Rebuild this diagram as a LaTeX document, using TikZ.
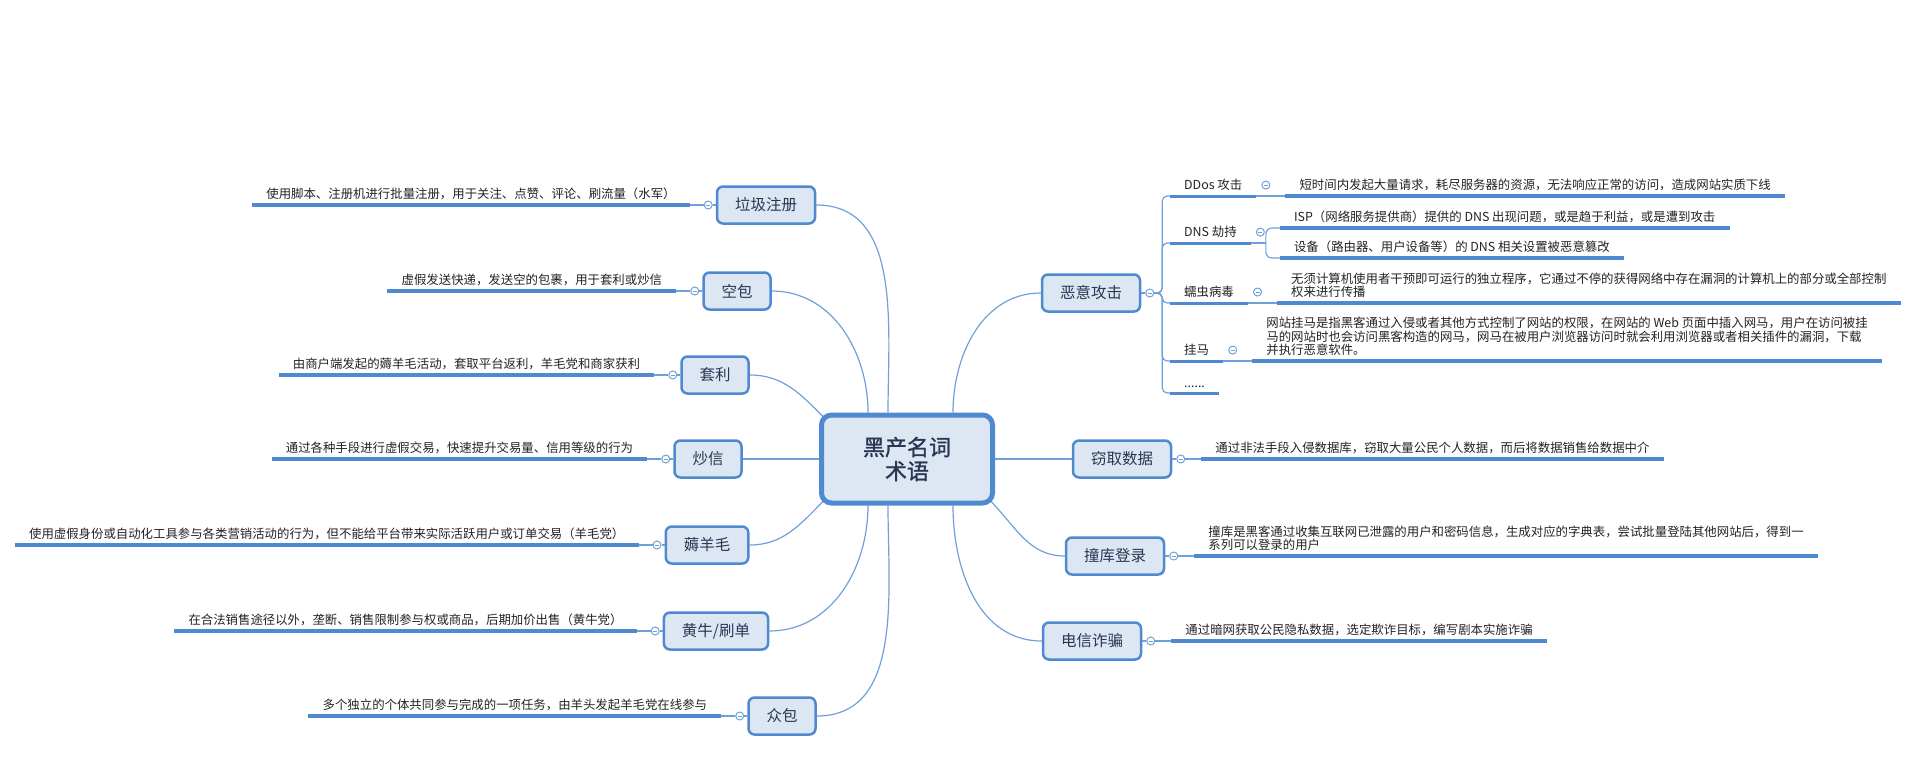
\documentclass[tikz,border=0pt]{standalone}
\usepackage{fontspec}
\setmainfont{Noto Sans CJK SC}
\newfontfamily\hubfont{Noto Sans CJK SC}[FakeBold=1.2]
\usepackage{tikz}
\usetikzlibrary{positioning, calc, backgrounds}
\definecolor{topicblue}{RGB}{79,138,208}
\definecolor{topicfill}{RGB}{221,231,243}
\definecolor{linkblue}{RGB}{112,160,218}
\definecolor{topictext}{RGB}{40,56,84}
\definecolor{desctext}{RGB}{34,34,34}

\begin{document}
\begin{tikzpicture}[
    x=1pt, y=-1pt,
    hub/.style={draw=topicblue, fill=topicfill, line width=5pt, rounded corners=10pt, minimum width=171pt, minimum height=88pt, align=center, text=topictext, font=\hubfont\fontsize{22}{24}\selectfont},
    topic/.style={draw=topicblue, fill=topicfill, line width=2.5pt, rounded corners=6pt, minimum height=37pt, inner xsep=18pt, text=topictext, font=\fontsize{15.5}{16}\selectfont},
    fold/.style={circle, draw=linkblue, fill=white, line width=1pt, minimum size=8pt, inner sep=0pt,
        path picture={\draw[linkblue, line width=0.8pt] ([xshift=-2pt]path picture bounding box.center) -- ([xshift=2pt]path picture bounding box.center);}},
    desc/.style={inner xsep=14pt, inner ysep=5pt, align=left, text=desctext, font=\fontsize{12.4}{13.5}\selectfont},
    sublabel/.style={inner xsep=14pt, inner ysep=5pt, text=desctext, font=\fontsize{12.4}{13.5}\selectfont},
    link/.style={draw=linkblue, line width=1.2pt},
    bar/.style={draw=topicblue, line width=4pt},
    subbar/.style={draw=topicblue, line width=3pt},
]
    \useasboundingbox (0,0) rectangle (1920,784);

    % Centre
    \node[hub] (hub) at (907,459) {黑产名词\\术语};

    % Left branches
    \node[topic] (laji) at (766,205) {垃圾注册};
    \node[fold, left=3pt of laji] (laji-c) {};
    \node[desc, left=14pt of laji-c.west, anchor=south east] (laji-d) {使用脚本、注册机进行批量注册，用于关注、点赞、评论、刷流量（水军）};

    \node[topic] (kongbao) at (737,291) {空包};
    \node[fold, left=3pt of kongbao] (kongbao-c) {};
    \node[desc, left=14pt of kongbao-c.west, anchor=south east] (kongbao-d) {虚假发送快递，发送空的包裹，用于套利或炒信};

    \node[topic] (taoli) at (715,375) {套利};
    \node[fold, left=3pt of taoli] (taoli-c) {};
    \node[desc, left=14pt of taoli-c.west, anchor=south east] (taoli-d) {由商户端发起的薅羊毛活动，套取平台返利，羊毛党和商家获利};

    \node[topic] (chaoxin) at (708,459) {炒信};
    \node[fold, left=3pt of chaoxin] (chaoxin-c) {};
    \node[desc, left=14pt of chaoxin-c.west, anchor=south east] (chaoxin-d) {通过各种手段进行虚假交易，快速提升交易量、信用等级的行为};

    \node[topic] (haoyang) at (707,545) {薅羊毛};
    \node[fold, left=3pt of haoyang] (haoyang-c) {};
    \node[desc, left=14pt of haoyang-c.west, anchor=south east] (haoyang-d) {使用虚假身份或自动化工具参与各类营销活动的行为，但不能给平台带来实际活跃用户或订单交易（羊毛党）};

    \node[topic] (huangniu) at (716,631) {黄牛/刷单};
    \node[fold, left=3pt of huangniu] (huangniu-c) {};
    \node[desc, left=14pt of huangniu-c.west, anchor=south east] (huangniu-d) {在合法销售途径以外，垄断、销售限制参与权或商品，后期加价出售（黄牛党）};

    \node[topic] (zhongbao) at (782,716) {众包};
    \node[fold, left=3pt of zhongbao] (zhongbao-c) {};
    \node[desc, left=14pt of zhongbao-c.west, anchor=south east] (zhongbao-d) {多个独立的个体共同参与完成的一项任务，由羊头发起羊毛党在线参与};

    \foreach \t in {laji, kongbao, taoli, chaoxin, haoyang, huangniu, zhongbao} {
        \draw[link] (\t.west) -- (\t-c.east);
        \draw[link] (\t-c.west) -- (\t-d.south east);
        \draw[bar] (\t-d.south west) -- (\t-d.south east);
    }

    % Right branches
    \node[topic] (attack) at (1091,293) {恶意攻击};
    \node[fold, right=4pt of attack] (attack-c) {};

    \node[sublabel, anchor=south west] (ddos) at (1170,196) {DDos 攻击};
    \node[fold, right=5pt of ddos] (ddos-c) {};
    \node[desc, right=29pt of ddos.south east, anchor=south west] (ddos-d) {短时间内发起大量请求，耗尽服务器的资源，无法响应正常的访问，造成网站实质下线};

    \node[sublabel, anchor=south west] (dns) at (1170,243) {DNS 劫持};
    \node[fold, right=5pt of dns] (dns-c) {};
    \coordinate[right=15pt of dns.south east] (dns-fork);
    \node[desc, above right=15pt and 14pt of dns-fork] (isp) {ISP（网络服务提供商）提供的 DNS 出现问题，或是趋于利益，或是遭到攻击};
    \node[desc, below right=15pt and 14pt of dns-fork, anchor=south west] (device) {设备（路由器、用户设备等）的 DNS 相关设置被恶意篡改};

    \node[sublabel, anchor=south west] (worm) at (1170,303) {蠕虫病毒};
    \node[fold, right=5pt of worm] (worm-c) {};
    \node[desc, right=29pt of worm.south east, anchor=south west] (worm-d) {无须计算机使用者干预即可运行的独立程序，它通过不停的获得网络中存在漏洞的计算机上的部分或全部控制\\权来进行传播};

    \node[sublabel, anchor=south west] (trojan) at (1170,361) {挂马};
    \node[fold, right=5pt of trojan] (trojan-c) {};
    \node[desc, right=29pt of trojan.south east, anchor=south west] (trojan-d) {网站挂马是指黑客通过入侵或者其他方式控制了网站的权限，在网站的 Web 页面中插入网马，用户在访问被挂\\马的网站时也会访问黑客构造的网马，网马在被用户浏览器访问时就会利用浏览器或者相关插件的漏洞，下载\\并执行恶意软件。};

    \node[sublabel, anchor=south west] (more) at (1170,393) {......};

    \draw[link] (attack.east) -- (attack-c.west);
    \foreach \s in {ddos, dns, worm, trojan, more} {
        \draw[link, rounded corners=5pt] (attack-c.east) -- ++(8,0) |- (\s.south west);
        \draw[subbar] (\s.south west) -- (\s.south east);
    }
    \foreach \s in {ddos, worm, trojan} {
        \draw[link] (\s.south east) -- (\s-d.south west);
        \draw[bar] (\s-d.south west) -- (\s-d.south east);
    }
    \draw[link] (dns.south east) -- (dns-fork);
    \draw[link, rounded corners=6pt] (dns-fork) |- (isp.south west);
    \draw[link, rounded corners=6pt] (dns-fork) |- (device.south west);
    \draw[bar] (isp.south west) -- (isp.south east);
    \draw[bar] (device.south west) -- (device.south east);

    \node[topic] (steal) at (1122,459) {窃取数据};
    \node[fold, right=4pt of steal] (steal-c) {};
    \node[desc, right=16pt of steal-c.east, anchor=south west] (steal-d) {通过非法手段入侵数据库，窃取大量公民个人数据，而后将数据销售给数据中介};

    \node[topic] (crack) at (1115,556) {撞库登录};
    \node[fold, right=4pt of crack] (crack-c) {};
    \node[desc, right=16pt of crack-c.east, anchor=south west] (crack-d) {撞库是黑客通过收集互联网已泄露的用户和密码信息，生成对应的字典表，尝试批量登陆其他网站后，得到一\\系列可以登录的用户};

    \node[topic] (fraud) at (1092,641) {电信诈骗};
    \node[fold, right=4pt of fraud] (fraud-c) {};
    \node[desc, right=16pt of fraud-c.east, anchor=south west] (fraud-d) {通过暗网获取公民隐私数据，选定欺诈目标，编写剧本实施诈骗};

    \foreach \t in {steal, crack, fraud} {
        \draw[link] (\t.east) -- (\t-c.west);
        \draw[link] (\t-c.east) -- (\t-d.south west);
        \draw[bar] (\t-d.south west) -- (\t-d.south east);
    }

    % Links to the centre
    \begin{scope}[on background layer]
        \draw[link] (laji.east) to[out=0, in=90] ([xshift=-19pt]hub.north);
        \draw[link] (kongbao.east) to[out=0, in=90] ([xshift=-39pt]hub.north);
        \draw[link] (taoli.east) to[out=0, in=135] ($(hub.north west)+(5,5)$);
        \draw[link] (chaoxin.east) -- (hub.west);
        \draw[link] (haoyang.east) to[out=0, in=-135] ($(hub.south west)+(5,-5)$);
        \draw[link] (huangniu.east) to[out=0, in=-90] ([xshift=-39pt]hub.south);
        \draw[link] (zhongbao.east) to[out=0, in=-90] ([xshift=-19pt]hub.south);
        \draw[link] (attack.west) to[out=180, in=90] ([xshift=46pt]hub.north);
        \draw[link] (steal.west) -- (hub.east);
        \draw[link] (crack.west) to[out=180, in=-45] ($(hub.south east)+(-5,-5)$);
        \draw[link] (fraud.west) to[out=180, in=-90] ([xshift=46pt]hub.south);
    \end{scope}
\end{tikzpicture}
\end{document}
